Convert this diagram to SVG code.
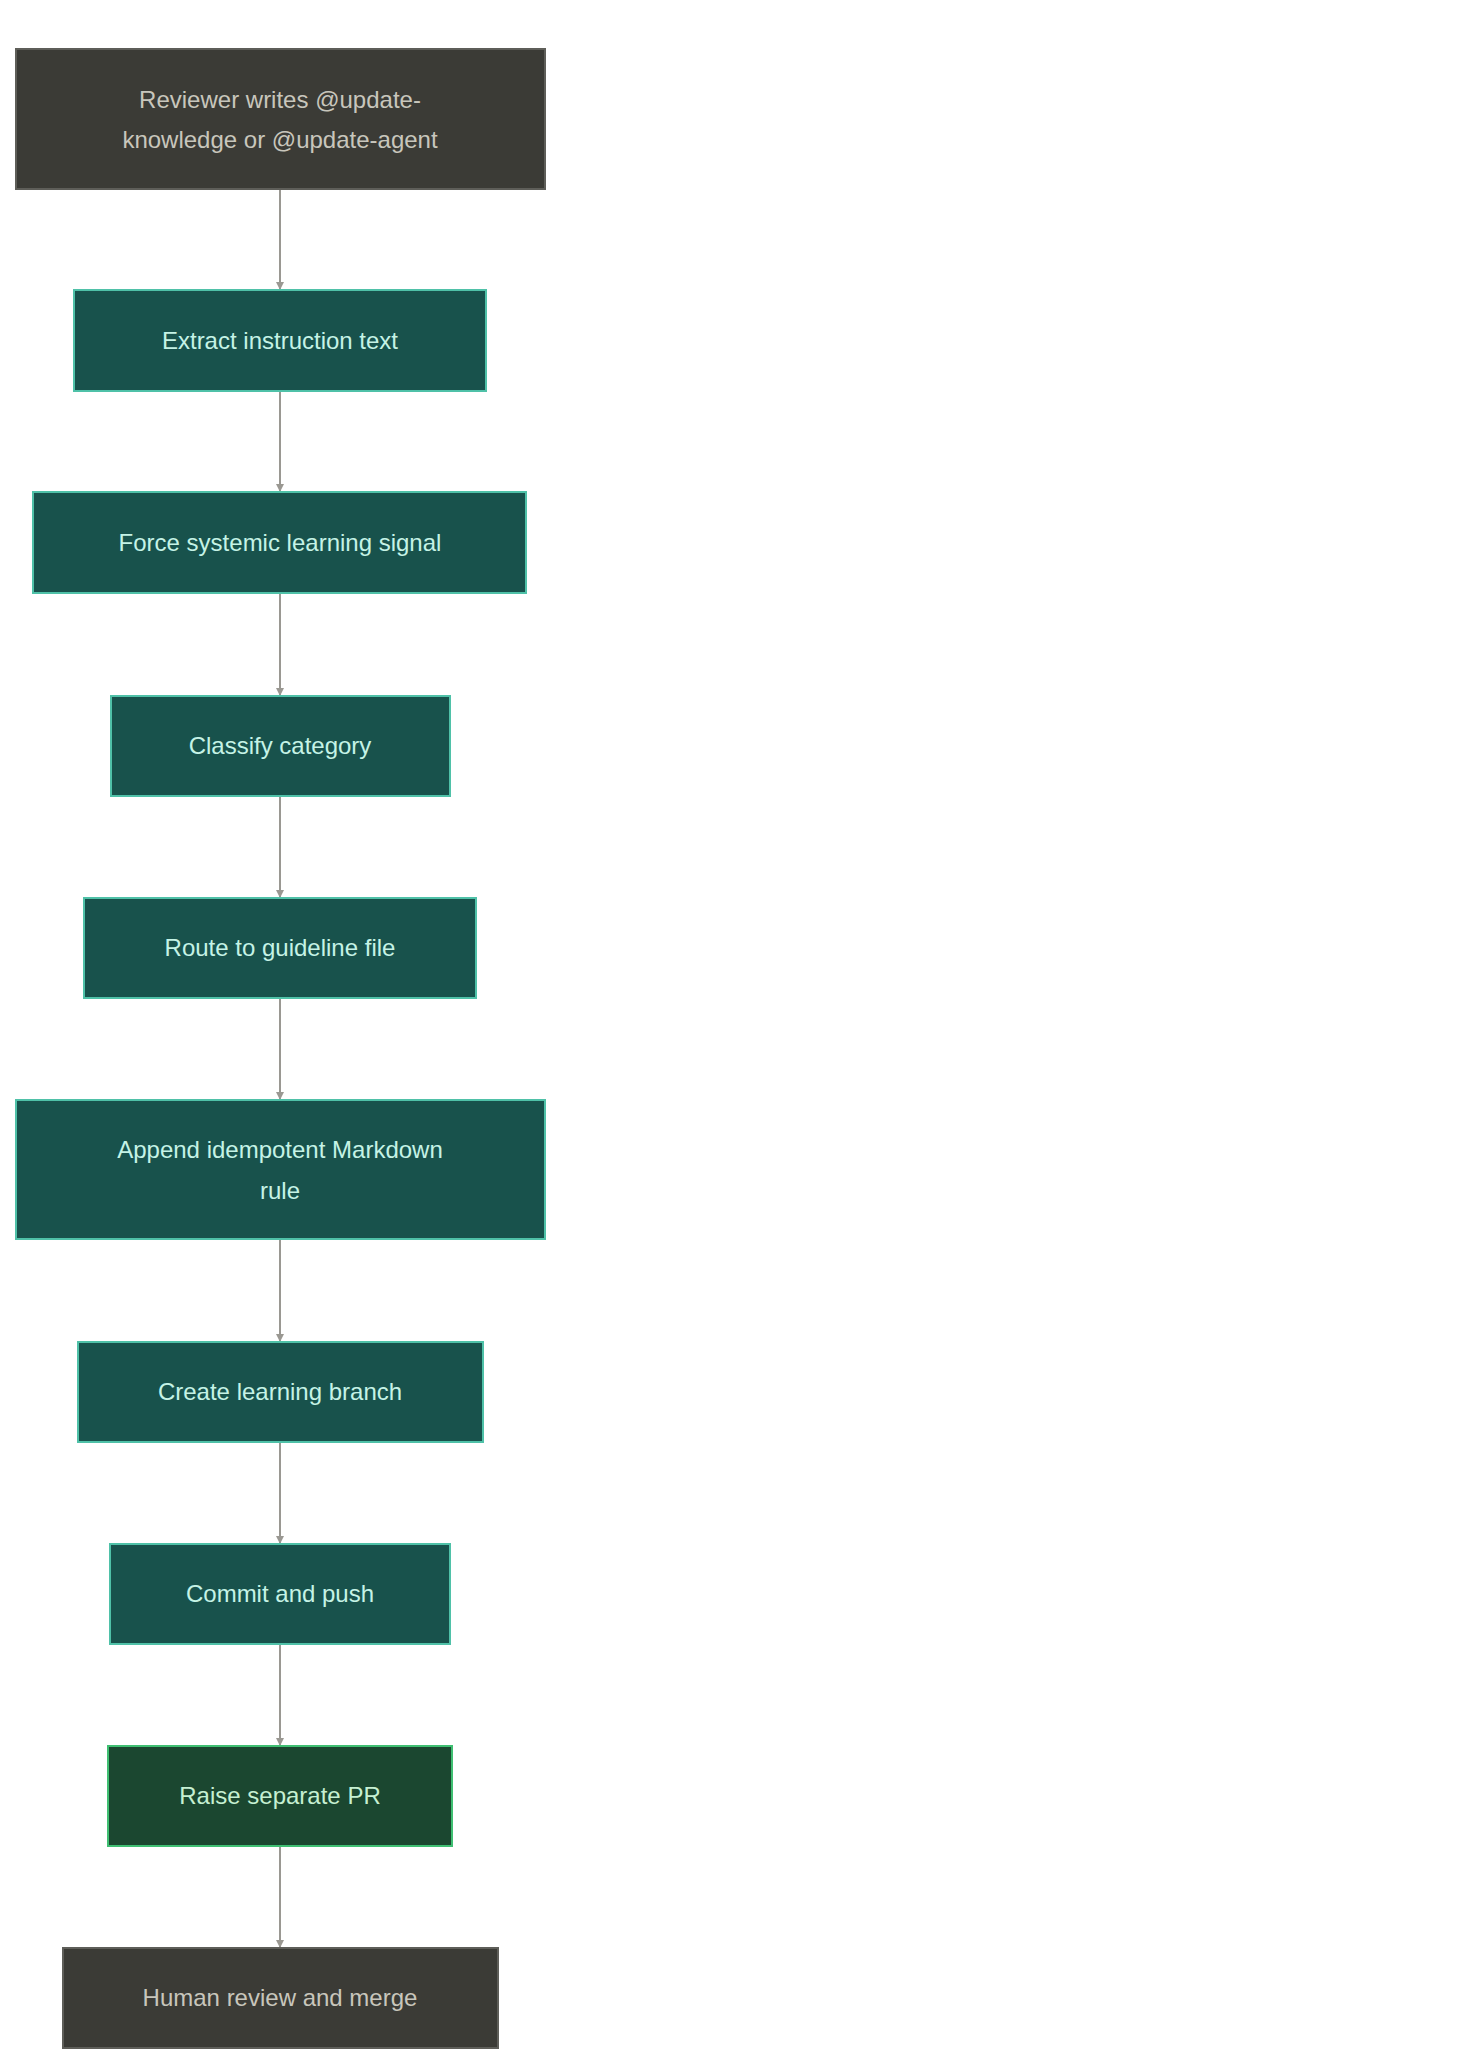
<svg xmlns="http://www.w3.org/2000/svg" width="1472" height="2064" viewBox="0 0 1472 2064">
<defs>
<style>
text{font-family:"Liberation Sans",Arial,sans-serif;font-size:24px;text-anchor:middle;dominant-baseline:central}
.grey rect{fill:#3b3b36;stroke:#5e5e59;stroke-width:2}
.grey text{fill:#c8c6bc}
.teal rect{fill:#18524c;stroke:#4fc1a8;stroke-width:2}
.teal text{fill:#c5f3e6}
.green rect{fill:#1b4730;stroke:#3fbf72;stroke-width:2}
.green text{fill:#c6f0d2}
#edges line{stroke:#9a9892;stroke-width:2;marker-end:url(#ah)}
</style>
<marker id="ah" viewBox="0 0 10 10" refX="10" refY="5" markerWidth="8" markerHeight="8" markerUnits="userSpaceOnUse" orient="auto"><path d="M0,0L10,5L0,10z" fill="#9a9892"/></marker>
</defs>
<rect width="1472" height="2064" fill="#fff"/>
<g id="edges">
<line x1="280" y1="189" x2="280" y2="290"/>
<line x1="280" y1="391" x2="280" y2="492"/>
<line x1="280" y1="593" x2="280" y2="696"/>
<line x1="280" y1="796" x2="280" y2="898"/>
<line x1="280" y1="998" x2="280" y2="1100"/>
<line x1="280" y1="1239" x2="280" y2="1342"/>
<line x1="280" y1="1442" x2="280" y2="1544"/>
<line x1="280" y1="1644" x2="280" y2="1746"/>
<line x1="280" y1="1846" x2="280" y2="1948"/>
</g>
<g id="n1" class="grey"><rect x="16" y="49" width="529" height="140"/><text x="280" y="99">Reviewer writes @update-</text><text x="280" y="139">knowledge or @update-agent</text></g>
<g id="n2" class="teal"><rect x="74" y="290" width="412" height="101"/><text x="280" y="340">Extract instruction text</text></g>
<g id="n3" class="teal"><rect x="33" y="492" width="493" height="101"/><text x="280" y="542">Force systemic learning signal</text></g>
<g id="n4" class="teal"><rect x="111" y="696" width="339" height="100"/><text x="280" y="745">Classify category</text></g>
<g id="n5" class="teal"><rect x="84" y="898" width="392" height="100"/><text x="280" y="947">Route to guideline file</text></g>
<g id="n6" class="teal"><rect x="16" y="1100" width="529" height="139"/><text x="280" y="1149">Append idempotent Markdown</text><text x="280" y="1190">rule</text></g>
<g id="n7" class="teal"><rect x="78" y="1342" width="405" height="100"/><text x="280" y="1391">Create learning branch</text></g>
<g id="n8" class="teal"><rect x="110" y="1544" width="340" height="100"/><text x="280" y="1593">Commit and push</text></g>
<g id="n9" class="green"><rect x="108" y="1746" width="344" height="100"/><text x="280" y="1795">Raise separate PR</text></g>
<g id="n10" class="grey"><rect x="63" y="1948" width="435" height="100"/><text x="280" y="1997">Human review and merge</text></g>
</svg>
